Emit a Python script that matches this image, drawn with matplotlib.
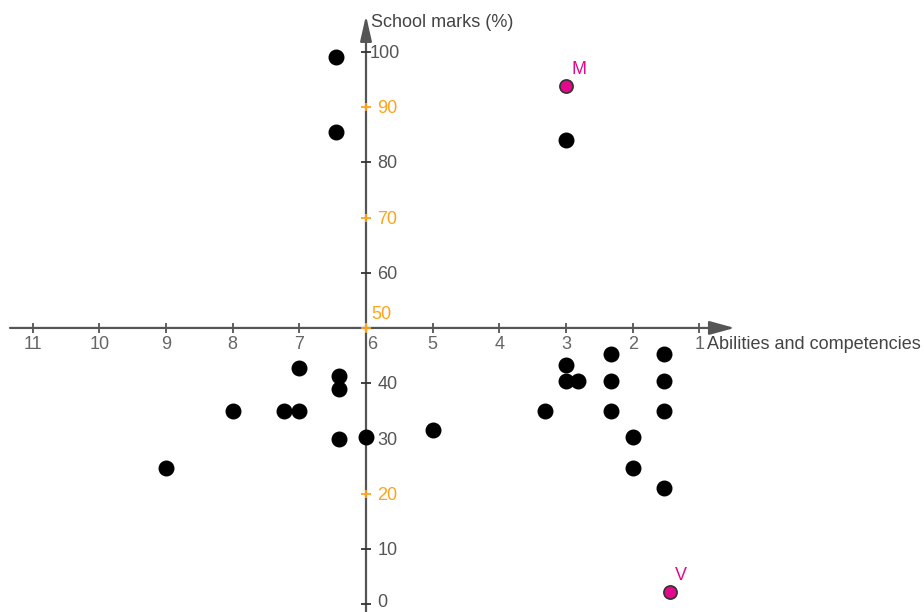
import matplotlib
matplotlib.use("Agg")
import matplotlib.pyplot as plt

# Data
abilities = [6.45, 6.45, 3.0, 7.0, 6.4, 6.4, 8.0, 7.23, 7.0, 6.4, 6.0, 5.0, 9.0,
             3.32, 3.0, 3.0, 2.82, 2.33, 2.33, 2.33, 2.0, 2.0, 1.53, 1.53, 1.53, 1.53]
marks = [99, 85.5, 84, 42.8, 41.3, 38.9, 35, 35, 35, 29.9, 30.2, 31.5, 24.6,
         35, 43.3, 40.4, 40.4, 45.3, 40.4, 35, 30.2, 24.6, 45.3, 40.4, 35, 21]
special_names = ["M", "V"]
special_x = [3.0, 1.44]
special_y = [93.8, 2.2]

x_ticks = [11, 10, 9, 8, 7, 6, 5, 4, 3, 2, 1]
y_ticks = [0, 10, 20, 30, 40, 50, 60, 70, 80, 90, 100]
y_orange = [20, 50, 70, 90]

x_label = "Abilities and competencies"
y_label = "School marks (%)"

plt.rcParams['font.family'] = ['Liberation Sans', 'DejaVu Sans']

fig = plt.figure(figsize=(9.24, 6.12), dpi=100)
ax = fig.add_axes([0, 0, 1, 1])
ax.set_xlim(11.49, -2.37)
ax.set_ylim(-1.45, 109.4)
ax.axis('off')

axis_col = '#555555'
orange = '#FFA31A'
label_col = '#666666'
magenta = '#E5088C'
fs = 13

x0, y0 = 6, 50
# axes lines with arrows
ax.annotate('', xy=(0.47, y0), xytext=(11.34, y0),
            arrowprops=dict(arrowstyle='-|>,head_length=1.1,head_width=0.3',
                            color=axis_col, lw=1.6, mutation_scale=14, shrinkA=0, shrinkB=0))
ax.annotate('', xy=(x0, 106.6), xytext=(x0, -1.45),
            arrowprops=dict(arrowstyle='-|>,head_length=1.1,head_width=0.25',
                            color=axis_col, lw=1.6, mutation_scale=14, shrinkA=0, shrinkB=0))

# x ticks
for v in x_ticks:
    ax.plot([v], [y0], marker='|', ms=7, mew=1.3, color=axis_col if v != 6 else orange, zorder=3)
    dx = -0.1 if v == 6 else 0
    ax.text(v + dx, y0 - 1.5, str(v), ha='center', va='top', fontsize=fs, color=label_col)

# y ticks
for v in y_ticks:
    col = orange if v in y_orange else '#333333'
    tcol = orange if v in y_orange else '#555555'
    ax.plot([x0], [v], marker='_', ms=7, mew=1.3, color=col, zorder=3)
    if v in y_orange:
        ax.plot([x0], [v], marker='|', ms=6, mew=1.3, color=col, zorder=3)
    if v == 50:
        ax.text(x0 - 0.08, v + 0.9, str(v), ha='left', va='bottom', fontsize=fs, color=tcol)
    elif v == 0:
        ax.text(x0 - 0.17, v - 1.3, str(v), ha='left', va='bottom', fontsize=fs, color=tcol)
    else:
        off = 0.06 if v == 100 else 0.17
        ax.text(x0 - off, v - 0.3, str(v), ha='left', va='center', fontsize=fs, color=tcol)

ax.text(0.88, y0 - 1.5, x_label, ha='left', va='top', fontsize=fs, color='#444444')
ax.text(x0 - 0.08, 105.4, y_label, ha='left', va='center', fontsize=fs, color='#444444')

# points
ax.scatter(abilities, marks, s=110, color='black', zorder=4)
ax.scatter(special_x, special_y, s=90, color=magenta, edgecolors='#333333', linewidths=1.2, zorder=4)
for n, sx, sy in zip(special_names, special_x, special_y):
    ax.text(sx - 0.08, sy + 1.5, n, ha='left', va='bottom', fontsize=fs, color=magenta)

fig.savefig('out.png', dpi=100)
